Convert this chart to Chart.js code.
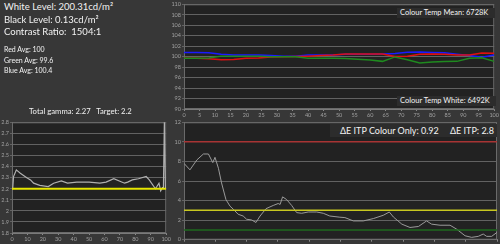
<!DOCTYPE html>
<html>
<head>
<meta charset="utf-8">
<script src="https://cdn.jsdelivr.net/npm/chart.js@4.4.1/dist/chart.umd.min.js"></script>
<style>
  body { margin: 0; width: 500px; height: 244px; overflow: hidden; position: relative; background: #373737; font-family: Lato, sans-serif; color: #f2f2f2; }
  canvas { position: absolute; }
  .t { position: absolute; white-space: nowrap; line-height: 1; }
  .big { font-size: 9.5px; left: 4px; }
  .small { font-size: 7px; left: 4px; }
  .box { position: absolute; background: #2c2c2c; white-space: nowrap; }
</style>
</head>
<body>
<canvas id="gamma" width="172" height="126" style="left:0;top:118px"></canvas>
<canvas id="rgb" width="335" height="119" style="left:165px;top:0"></canvas>
<canvas id="de" width="335" height="126" style="left:165px;top:118px"></canvas>

<div class="t big" style="top:1.6px">White Level: 200.31cd/m²</div>
<div class="t big" style="top:14.6px">Black Level: 0.13cd/m²</div>
<div class="t big" style="top:26.6px">Contrast Ratio:&nbsp; 1504:1</div>
<div class="t small" style="top:46.3px">Red Avg: 100</div>
<div class="t small" style="top:56.8px">Green Avg: 99.6</div>
<div class="t small" style="top:66.8px">Blue Avg: 100.4</div>
<div class="t" style="font-size:7.7px;left:29px;top:108.2px">Total gamma: 2.27&nbsp;&nbsp; Target: 2.2</div>

<div class="box" style="left:397px;top:8px;width:98px;height:10px;font-size:7.5px;line-height:10px;padding-left:3px;box-sizing:border-box">Colour Temp Mean: 6728K</div>
<div class="box" style="left:397px;top:96px;width:99px;height:10px;font-size:7.5px;line-height:10px;padding-left:3px;box-sizing:border-box">Colour Temp White: 6492K</div>
<div class="box" style="left:330px;top:124px;width:167px;height:13px;font-size:9px;line-height:13px">
  <span style="position:absolute;left:10px">ΔE ITP Colour Only: 0.92</span>
  <span style="position:absolute;left:120px">ΔE ITP: 2.8</span>
</div>

<script>
// gamma tracking
const gammaX = [0, 0.5, 1, 2.8, 5.4, 9.6, 12, 14, 18, 23.5, 27, 32, 36, 42, 50, 57, 61, 66, 73, 75, 78, 82, 87, 89, 93, 95.3, 96.4, 97.6, 98.2, 98.8, 99.5];
const gammaY = [2.2, 2.21, 2.31, 2.37, 2.34, 2.3, 2.28, 2.25, 2.23, 2.22, 2.25, 2.27, 2.25, 2.26, 2.26, 2.25, 2.26, 2.29, 2.25, 2.26, 2.28, 2.29, 2.31, 2.28, 2.2, 2.25, 2.18, 2.21, 2.21, 2.8, 2.2];
const gammaTarget = 2.2;

// RGB balance
const rgbX = [0, 4, 8, 12, 16, 20, 24, 28, 32, 36, 40, 44, 48, 52, 56, 60, 64, 68, 72, 76, 80, 84, 88, 92, 96, 100];
const redY = [99.7, 99.7, 99.6, 99.4, 99.45, 99.7, 99.75, 99.95, 100.0, 100.05, 100.1, 100.2, 100.3, 100.5, 100.5, 100.5, 100.5, 100.05, 100.1, 100.45, 100.5, 100.45, 100.3, 100.3, 100.7, 100.65];
const greenY = [99.7, 99.7, 99.75, 100.1, 100.1, 100.1, 100.1, 100.0, 100.0, 100.0, 99.7, 99.7, 99.7, 99.65, 99.5, 99.35, 99.1, 99.95, 99.4, 98.8, 99.0, 99.05, 99.1, 99.7, 99.8, 99.1];
const blueY = [100.8, 100.8, 100.75, 100.45, 100.3, 100.3, 100.3, 100.2, 100.1, 100.1, 100.3, 100.3, 100.3, 100.45, 100.45, 100.45, 100.5, 100.6, 100.85, 100.9, 100.8, 100.75, 100.45, 100.2, 99.9, 100.3];

// delta E ITP
const deX = [0, 1.9, 4.1, 6.2, 7.8, 9.2, 9.9, 11, 12, 13.4, 14.7, 15.8, 17.3, 18.9, 20, 21.6, 23, 24.3, 26.2, 28.5, 30.1, 30.7, 31.5, 32.8, 34.4, 36, 37.6, 39.7, 42.4, 44.5, 46.6, 49.8, 51.4, 54.1, 57.3, 60.5, 63.7, 65.6, 66.9, 69.6, 72.2, 74.9, 77.5, 79.1, 81.8, 85, 87.1, 89.8, 91.9, 94, 95.6, 96.7, 98.3, 100];
const deY = [7.8, 7.14, 8.15, 8.76, 8.76, 7.88, 8.42, 7.3, 5.8, 4.1, 3.43, 3.1, 2.6, 2.42, 2.09, 2.02, 1.76, 2.42, 3.17, 3.5, 3.7, 3.6, 4.38, 4.1, 3.5, 2.77, 2.7, 2.83, 2.83, 2.7, 2.42, 2.3, 2.26, 1.92, 1.92, 2.16, 2.5, 2.83, 2.32, 1.59, 1.25, 1.35, 1.92, 1.59, 1.48, 1.48, 1.08, 0.4, 0.24, 0.34, 0.58, 0.34, 0.34, 0.75];
const deLimits = [10, 3, 1];
const deLimitColors = ["#a83434", "#c8c820", "#1e6a1e"];

Chart.defaults.font.family = "Lato";
Chart.defaults.font.size = 5.5;
Chart.defaults.color = "#a0a0a0";

const pts = (xs, ys) => xs.map((x, i) => ({ x: x, y: ys[i] }));
const flat = (v) => [{ x: 0, y: v }, { x: 100, y: v }];

// dark plot area with a thin frame, drawn under the lines
const plotBg = {
  id: "plotBg",
  beforeDraw(chart) {
    const { ctx, chartArea: a } = chart;
    ctx.save();
    ctx.fillStyle = "#222222";
    ctx.fillRect(a.left, a.top, a.right - a.left, a.bottom - a.top);
    ctx.restore();
  },
  beforeDatasetsDraw(chart) {
    const { ctx, chartArea: a } = chart;
    ctx.save();
    ctx.strokeStyle = "#6a6a6a";
    ctx.lineWidth = 1;
    ctx.strokeRect(a.left + 0.5, a.top + 0.5, a.right - a.left - 1, a.bottom - a.top - 1);
    ctx.restore();
  },
};

function axes(yMin, yMax, yStep, xStep, yW, xH, showX, fmt) {
  return {
    x: {
      type: "linear", min: 0, max: 100,
      afterFit: (s) => { s.height = xH; },
      grid: { drawOnChartArea: false, drawTicks: true, tickLength: 2, color: "#8a8a8a" },
      border: { color: "#7a7a7a" },
      ticks: { display: showX, stepSize: xStep, padding: 1, maxRotation: 0, autoSkip: false },
    },
    y: {
      min: yMin, max: yMax,
      afterFit: (s) => { s.width = yW; },
      grid: { color: "#626262", tickLength: 2 },
      border: { color: "#7a7a7a" },
      ticks: { stepSize: yStep, padding: 1, autoSkip: false, callback: fmt },
    },
  };
}

new Chart(document.getElementById("gamma"), {
  type: "line",
  data: {
    datasets: [
      { data: flat(gammaTarget), borderColor: "#e6e600", borderWidth: 2, pointRadius: 0 },
      { data: pts(gammaX, gammaY), borderColor: "#b0b0b0", borderWidth: 1.2, pointRadius: 0, clip: 3 },
    ],
  },
  options: {
    responsive: false, animation: false,
    layout: { padding: { top: 4, right: 5 } },
    plugins: { legend: { display: false }, tooltip: { enabled: false } },
    scales: axes(1.8, 2.8, 0.1, 10, 12, 11, true, (v) => String(+v.toFixed(1))),
  },
  plugins: [plotBg],
});

new Chart(document.getElementById("rgb"), {
  type: "line",
  data: {
    datasets: [
      { data: pts(rgbX, greenY), borderColor: "#1f8a1f", borderWidth: 1.5, pointRadius: 0 },
      { data: pts(rgbX, redY), borderColor: "#e01010", borderWidth: 1.5, pointRadius: 0 },
      { data: pts(rgbX, blueY), borderColor: "#1a1aff", borderWidth: 1.5, pointRadius: 0 },
    ],
  },
  options: {
    responsive: false, animation: false,
    layout: { padding: { top: 3, right: 4 } },
    plugins: { legend: { display: false }, tooltip: { enabled: false } },
    scales: axes(90, 110, 2, 5, 19, 10, true, (v) => String(v)),
  },
  plugins: [plotBg],
});

new Chart(document.getElementById("de"), {
  type: "line",
  data: {
    datasets: deLimits.map((v, i) => ({ data: flat(v), borderColor: deLimitColors[i], borderWidth: 1.5, pointRadius: 0 }))
      .concat([{ data: pts(deX, deY), borderColor: "#9a9a9a", borderWidth: 1, pointRadius: 0 }]),
  },
  options: {
    responsive: false, animation: false,
    layout: { padding: { top: 4, right: 3 } },
    plugins: { legend: { display: false }, tooltip: { enabled: false } },
    scales: axes(0, 12, 2, 10, 19, 3, false, (v) => String(v)),
  },
  plugins: [plotBg],
});
</script>
</body>
</html>
